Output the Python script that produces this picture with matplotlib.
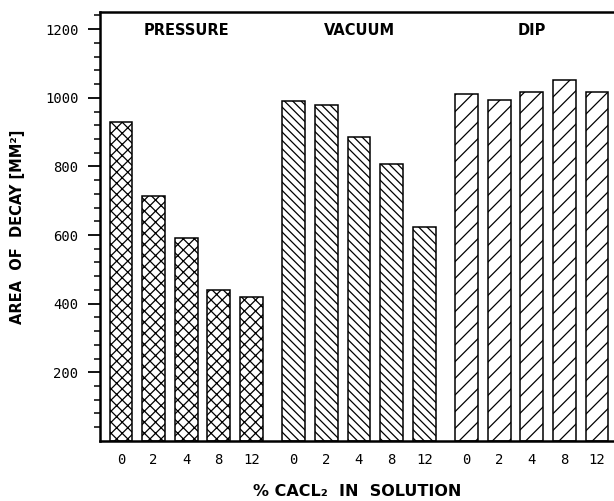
import numpy as np
import matplotlib
matplotlib.use('Agg')
import matplotlib.pyplot as plt
import matplotlib.transforms as mtransforms

# Values
methods = ['PRESSURE', 'VACUUM', 'DIP']
concentrations = ['0', '2', '4', '8', '12']
pressure = [930, 714, 591, 441, 420]
vacuum = [990, 978, 886, 806, 622]
dip = [1010, 995, 1018, 1052, 1016]

series = [pressure, vacuum, dip]
hatches = ['xxx', '\\\\\\\\', '//']
group_step = 5.3
bar_width = 0.7

plt.rcParams['hatch.linewidth'] = 0.9

fig = plt.figure(figsize=(6.14, 5.01), dpi=100)
ax = fig.add_axes([0.163, 0.12, 0.837, 0.856])

tick_pos = []
tick_lab = []
for g, (name, vals, hatch) in enumerate(zip(methods, series, hatches)):
    x = g * group_step + np.arange(len(vals))
    ax.bar(x, vals, width=bar_width, facecolor='white', edgecolor='black',
           linewidth=1.1, hatch=hatch, zorder=2)
    tick_pos.extend(x)
    tick_lab.extend(concentrations)
    # group title near the top of the plot
    trans = mtransforms.blended_transform_factory(ax.transData, ax.transAxes)
    ax.text(x.mean(), 0.958, name, transform=trans, ha='center', va='center',
            fontsize=10.5, fontweight='bold', family='DejaVu Sans')

ax.set_xlim(-0.64, 15.12)
ax.set_ylim(0, 1250)

ax.set_xticks(tick_pos)
ax.set_xticklabels(tick_lab, family='DejaVu Sans Mono', fontsize=10)
ax.tick_params(axis='x', length=0, pad=9)

ax.set_yticks([200, 400, 600, 800, 1000, 1200])
ax.set_yticks(np.arange(40, 1250, 40), minor=True)
ax.set_yticklabels(['200', '400', '600', '800', '1000', '1200'],
                   family='DejaVu Sans Mono', fontsize=10)
ax.tick_params(axis='y', which='major', length=8.6, width=1.3, pad=7)
ax.tick_params(axis='y', which='minor', length=4.3, width=1.1)

for side in ['left', 'bottom', 'top']:
    ax.spines[side].set_linewidth(1.8)
ax.spines['right'].set_visible(False)

ax.set_ylabel('AREA  OF  DECAY [MM²]', fontsize=10.5, fontweight='bold',
              labelpad=14)
ax.set_xlabel('% CACL₂  IN  SOLUTION', fontsize=11.5, fontweight='bold',
              labelpad=12)

fig.savefig('out.png', dpi=100)
